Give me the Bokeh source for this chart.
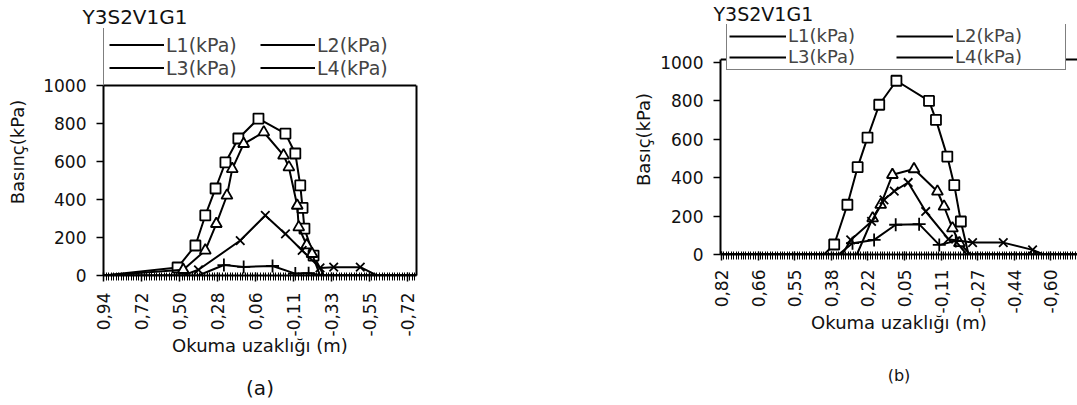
import numpy as np
from bokeh.plotting import figure
from bokeh.models import (Range1d, FixedTicker, Legend, LegendItem, Span, Title,
                          LinearAxis)
from bokeh.layouts import row, column
from bokeh.embed import file_html
from bokeh.resources import INLINE

FONT = "DejaVu Sans"

# ---------------- data: panel (a) ----------------
# x = position along the category axis (one tick label every 10 units)
a_tick_labels = ["0,94", "0,72", "0,50", "0,28", "0,06", "-0,11", "-0,33", "-0,55", "-0,72"]
a_L1_x = [0, 19.5, 24.2, 26.8, 29.5, 32.1, 35.5, 40.8, 47.9, 50.5, 51.8, 52.4, 52.9, 55.3, 58, 82.4]
a_L1_y = [0, 42, 158, 316, 458, 595, 721, 826, 747, 642, 474, 356, 247, 105, 0, 0]
a_L2_x = [0, 21, 26.8, 29.7, 32.5, 33.9, 36.9, 42.2, 47.4, 48.8, 51, 51.4, 53.5, 54.9, 57, 82.4]
a_L2_y = [0, 30, 132, 272, 421, 561, 693, 754, 632, 570, 368, 254, 160, 114, 0, 0]
a_L3_x = [0, 21, 25, 36, 42.6, 47.9, 52.3, 57, 60.6, 67.6, 72, 82.4]
a_L3_y = [0, 0, 30, 184, 316, 219, 132, 40, 44, 44, 0, 0]
a_L4_x = [0, 25, 31.7, 36.9, 44.5, 50.5, 54, 58, 82.4]
a_L4_y = [0, 0, 55, 45, 50, 10, 12, 0, 0]

# ---------------- data: panel (b) ----------------
b_tick_labels = ["0,82", "0,66", "0,55", "0,38", "0,22", "0,05", "-0,11", "-0,27", "-0,44", "-0,60"]
b_L1_x = [0, 28, 30.8, 34.4, 37.2, 39.9, 43.1, 47.8, 56.7, 58.6, 61.7, 63.6, 65.4, 67.5, 98]
b_L1_y = [0, 0, 52, 259, 455, 609, 780, 905, 800, 701, 510, 361, 172, 0, 0]
b_L2_x = [0, 37, 41.3, 43.5, 46.7, 52.6, 59, 60.8, 63.1, 65, 68, 98]
b_L2_y = [0, 0, 189, 259, 415, 445, 328, 250, 137, 60, 0, 0]
b_L3_x = [0, 33, 35.3, 41, 44.4, 47.2, 51, 55.8, 62, 68.6, 77, 85, 88, 98]
b_L3_y = [0, 0, 76, 172, 285, 330, 375, 224, 80, 62, 62, 24, 0, 0]
b_L4_x = [0, 32, 35.8, 41.7, 47.6, 54, 59.5, 64, 67, 98]
b_L4_y = [0, 0, 59, 76, 155, 158, 50, 70, 0, 0]

series_names = ["L1(kPa)", "L2(kPa)", "L3(kPa)", "L4(kPa)"]
markers = ["square", "triangle", "x", "cross"]
marker_sizes = [10, 11, 12, 13]


def style_axis(ax):
    ax.axis_line_width = 2
    ax.axis_line_color = "black"
    ax.major_tick_line_color = "black"
    ax.major_tick_line_width = 1.5
    ax.minor_tick_line_color = "black"
    ax.minor_tick_line_width = 1
    ax.major_label_text_font = FONT
    ax.major_label_text_font_size = "17px"
    ax.major_label_text_color = "#111111"
    ax.axis_label_text_font = FONT
    ax.axis_label_text_font_size = "18px"
    ax.axis_label_text_font_style = "normal"
    ax.axis_label_text_color = "#111111"


def make_panel(frame_w, frame_h, mb_left, mb_right, mb_top, mb_bottom, x_range, px_per_kpa,
               y_top, tick_labels, series, ylabel, ylabel_standoff, xlab_standoff,
               title_offset, title_size, caption, caption_offset, caption_size,
               caption_standoff, legend_loc, legend_dims, legend_font, boxed):
    p = figure(frame_width=frame_w, frame_height=frame_h, output_backend="svg",
               toolbar_location=None, x_range=Range1d(*x_range),
               y_range=Range1d(0, frame_h / px_per_kpa),
               min_border_left=mb_left, min_border_right=mb_right,
               min_border_top=mb_top, min_border_bottom=mb_bottom)
    p.background_fill_color = "white"
    p.border_fill_color = "white"
    p.outline_line_color = None
    p.xgrid.visible = False
    p.ygrid.visible = False

    # title (side panel, shifted left of the frame)
    p.add_layout(Title(text="Y3S2V1G1", align="left", offset=title_offset, standoff=0,
                       text_font=FONT, text_font_size=title_size, text_font_style="normal",
                       text_color="#111111"), "above")

    # top border of the plot area
    p.add_layout(Span(location=y_top, dimension="width", line_color="black", line_width=2))

    items = {}
    for (xs, ys), name, mk, ms in zip(series, series_names, markers, marker_sizes):
        r = p.line(xs, ys, line_color="black", line_width=2)
        mx = [x for x, y in zip(xs, ys) if y > 0]
        my = [y for y in ys if y > 0]
        p.scatter(mx, my, marker=mk, size=ms, fill_color="white", line_color="black",
                  line_width=1.8)
        items[name] = LegendItem(label=name, renderers=[r])

    gw, gh, lw, pad = legend_dims
    # column-major filling -> L1 L2 on first row, L3 L4 on second row
    order = ["L1(kPa)", "L3(kPa)", "L2(kPa)", "L4(kPa)"]
    leg = Legend(items=[items[k] for k in order], ncols=2, location=legend_loc,
                 padding=pad, spacing=0, margin=0, glyph_width=gw, glyph_height=gh,
                 label_height=gh, label_width=lw, label_standoff=2, label_text_font=FONT,
                 label_text_font_size=legend_font, border_line_color="black",
                 border_line_width=1.5, background_fill_color="white",
                 background_fill_alpha=1.0)
    p.add_layout(leg, "center")

    # x axis (category positions, one label every 10)
    xax = p.below[0]
    n = len(tick_labels)
    pos = [10 * i for i in range(n)]
    minor = [i * 10 / 15 for i in range(int(x_range[1] * 1.5) + 2)]
    xax.ticker = FixedTicker(ticks=pos, minor_ticks=minor)
    xax.major_label_overrides = {v: t for v, t in zip(pos, tick_labels)}
    xax.major_label_orientation = np.pi / 2
    xax.axis_label = "Okuma uzaklığı (m)"
    xax.major_tick_in = 3
    xax.major_tick_out = 6
    xax.minor_tick_in = 3
    xax.minor_tick_out = 5
    xax.major_label_standoff = xlab_standoff
    xax.axis_label_standoff = -4
    style_axis(xax)

    # y axis
    yax = p.left[0]
    yax.ticker = FixedTicker(ticks=[0, 200, 400, 600, 800, 1000], minor_ticks=[])
    yax.bounds = (0, y_top)
    yax.axis_label = ylabel
    yax.major_tick_in = 0
    yax.major_tick_out = 7
    yax.major_label_standoff = 10
    yax.axis_label_standoff = ylabel_standoff
    style_axis(yax)

    if boxed:
        rax = LinearAxis(bounds=(0, y_top), ticker=FixedTicker(ticks=[], minor_ticks=[]),
                         axis_line_width=2, axis_line_color="black",
                         major_tick_line_color=None, minor_tick_line_color=None,
                         major_label_text_alpha=0)
        p.add_layout(rax, "right")

    p.add_layout(Title(text=caption, align="center", offset=caption_offset,
                       standoff=caption_standoff, text_font=FONT,
                       text_font_size=caption_size, text_font_style="normal",
                       text_color="#111111"), "below")
    return p


# panel (a): frame 28..275 px, 0.19 px per kPa
pa = make_panel(313, 247, 103, 144, 28, 125, (0, 82.4), 0.19, 1000, a_tick_labels,
                [(a_L1_x, a_L1_y), (a_L2_x, a_L2_y), (a_L3_x, a_L3_y), (a_L4_x, a_L4_y)],
                "Basınç(kPa)", 12, 11, -21, "20px", "(a)", -35, "20px", 28,
                (0, 190), (55, 23, 94, 5), "19px", True)

# panel (b): frame 23..253 px, 0.192 px per kPa
pb = make_panel(357, 230, 160, 0, 23, 147, (-0.27, -0.27 + 357 / 3.66), 0.192, 1015,
                b_tick_labels,
                [(b_L1_x, b_L1_y), (b_L2_x, b_L2_y), (b_L3_x, b_L3_y), (b_L4_x, b_L4_y)],
                "Basıç(kPa)", 3, 9, -7, "19px", "(b)", -17, "16px", 54,
                (6, 184), (57, 20, 108, 2), "18px", False)

layout = row(column(pa), column(pb))
open("out.html", "w").write(file_html(layout, INLINE))
